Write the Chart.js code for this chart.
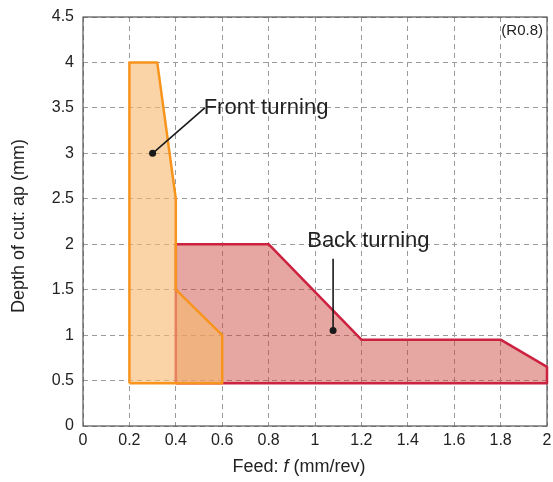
<!DOCTYPE html>
<html>
<head>
<meta charset="utf-8">
<script src="https://cdn.jsdelivr.net/npm/chart.js@4/dist/chart.umd.min.js"></script>
<style>
  body { margin: 0; background: #fff; }
  #wrap { width: 553px; height: 482px; }
</style>
</head>
<body>
<div id="wrap"><canvas id="chart" width="553" height="482"></canvas></div>
<script>
// outlines of the two regions (feed f, depth ap), closed back to the start
const frontX = [0.2, 0.2, 0.32, 0.4, 0.4, 0.6, 0.6, 0.2];
const frontY = [0.47, 4.0, 4.0, 2.5, 1.5, 1.0, 0.47, 0.47];
const backX = [0.4, 0.4, 0.8, 1.2, 1.8, 2.0, 2.0, 0.4];
const backY = [0.47, 2.0, 2.0, 0.95, 0.95, 0.65, 0.47, 0.47];

// callouts: dot, end of leader line, label position
const calloutNames = ['Front turning', 'Back turning'];
const dotX = [0.3, 1.078];
const dotY = [3.0, 1.05];
const lineEndX = [0.525, 1.078];
const lineEndY = [3.5, 1.84];
const labelX = [0.52, 1.23];
const labelY = [3.5, 2.035];
const labelAlign = ['left', 'center'];

const FONT = "'Liberation Sans', Arial, Helvetica, sans-serif";

const toPts = (xs, ys) => xs.map((x, i) => ({ x: x, y: ys[i] }));
const fmt = v => String(+v.toFixed(1));

// frame round the plot + axis titles + callout labels
const decor = {
  id: 'decor',
  beforeDatasetsDraw(chart) {
    const { ctx, chartArea: a } = chart;
    ctx.save();
    ctx.strokeStyle = '#555';
    ctx.lineWidth = 1.2;
    ctx.strokeRect(a.left, a.top, a.right - a.left, a.bottom - a.top);
    ctx.restore();
  },
  afterDraw(chart) {
    const { ctx, chartArea: a, scales } = chart;
    ctx.save();
    ctx.fillStyle = '#222';

    // y title
    ctx.font = '18px ' + FONT;
    ctx.textAlign = 'center';
    ctx.textBaseline = 'middle';
    ctx.translate(19, 226);
    ctx.rotate(-Math.PI / 2);
    ctx.fillText('Depth of cut: ap (mm)', 0, 0);
    ctx.setTransform(1, 0, 0, 1, 0, 0);

    // x title with italic f
    const parts = [['Feed: ', ''], ['f', 'italic '], [' (mm/rev)', '']];
    let total = 0;
    parts.forEach(p => { ctx.font = p[1] + '18px ' + FONT; total += ctx.measureText(p[0]).width; });
    let x = 299 - total / 2;
    ctx.textAlign = 'left';
    parts.forEach(p => {
      ctx.font = p[1] + '18px ' + FONT;
      ctx.fillText(p[0], x, 467);
      x += ctx.measureText(p[0]).width;
    });

    // (R0.8)
    ctx.font = '15px ' + FONT;
    ctx.textAlign = 'right';
    ctx.fillText('(R0.8)', a.right - 4, a.top + 14);

    // callout labels
    ctx.font = '22px ' + FONT;
    calloutNames.forEach((name, i) => {
      ctx.textAlign = labelAlign[i];
      ctx.fillText(name, scales.x.getPixelForValue(labelX[i]), scales.y.getPixelForValue(labelY[i]));
    });
    ctx.restore();
  }
};

const leaderSets = calloutNames.map((name, i) => ({
  label: name + ' leader',
  data: [{ x: dotX[i], y: dotY[i] }, { x: lineEndX[i], y: lineEndY[i] }],
  borderColor: '#1a1a1a',
  backgroundColor: '#1a1a1a',
  borderWidth: 1.6,
  pointRadius: [3.5, 0],
  pointBorderWidth: 0,
  fill: false,
  order: 0
}));

new Chart(document.getElementById('chart'), {
  type: 'line',
  data: {
    datasets: [
      ...leaderSets,
      {
        label: 'Front turning',
        data: toPts(frontX, frontY),
        borderColor: '#f7941d',
        backgroundColor: 'rgba(247,185,112,0.62)',
        borderWidth: 2.5,
        borderJoinStyle: 'round',
        pointRadius: 0,
        fill: 'shape',
        clip: 4,
        order: 1
      },
      {
        label: 'Back turning',
        data: toPts(backX, backY),
        borderColor: '#cc2240',
        backgroundColor: 'rgba(200,60,50,0.46)',
        borderWidth: 2.5,
        borderJoinStyle: 'round',
        pointRadius: 0,
        fill: 'shape',
        clip: 4,
        order: 2
      }
    ]
  },
  options: {
    responsive: false,
    animation: false,
    events: [],
    layout: { padding: { top: 17, right: 6, left: 0, bottom: 0 } },
    plugins: { legend: { display: false }, tooltip: { enabled: false } },
    scales: {
      x: {
        type: 'linear',
        min: 0,
        max: 2,
        ticks: { stepSize: 0.2, color: '#222', padding: 5, font: { family: FONT, size: 16 }, callback: fmt },
        grid: { color: '#9a9a9a', lineWidth: 1, drawTicks: false },
        border: { display: false, dash: [5, 4] },
        afterFit(scale) {
          scale.height = 56;
          scale.paddingLeft = 0;
          scale.paddingRight = 0;
        }
      },
      y: {
        min: 0,
        max: 4.5,
        ticks: { stepSize: 0.5, color: '#222', padding: 9, font: { family: FONT, size: 16 }, callback: fmt },
        grid: { color: '#9a9a9a', lineWidth: 1, drawTicks: false },
        border: { display: false, dash: [5, 4] },
        afterFit(scale) {
          scale.width = 83;
          scale.paddingTop = 0;
          scale.paddingBottom = 0;
        }
      }
    }
  },
  plugins: [decor]
});
</script>
</body>
</html>
